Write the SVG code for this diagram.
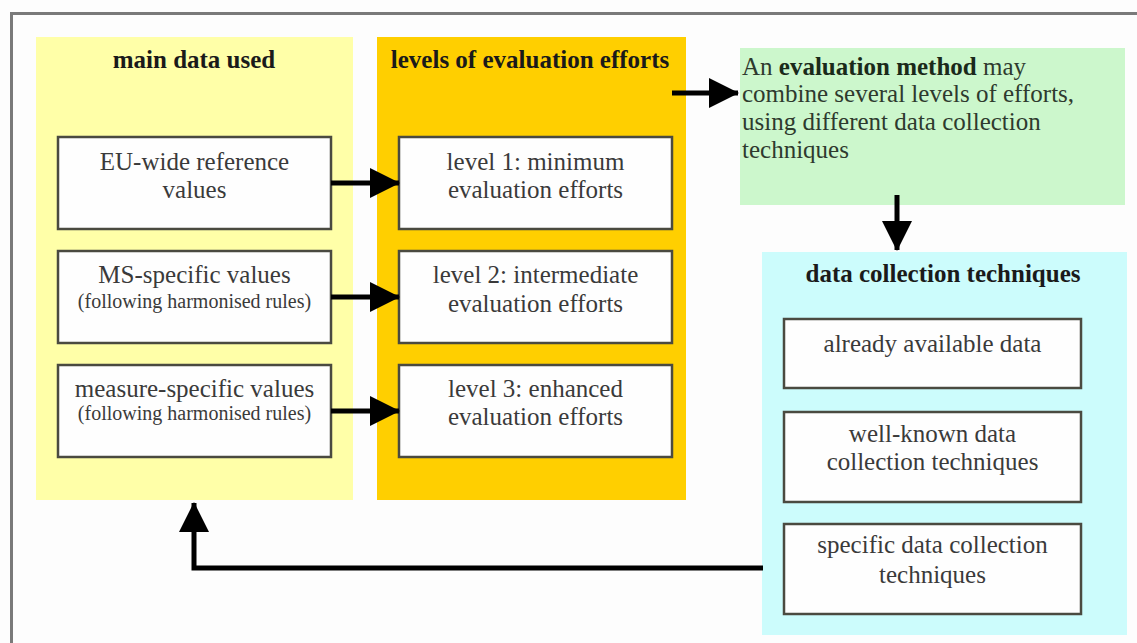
<svg xmlns="http://www.w3.org/2000/svg" width="1137" height="643" viewBox="0 0 1137 643">
<defs>
<style>
.t{font-family:"Liberation Serif","Times New Roman",serif;font-size:25px;fill:#3a3a3a}
.s{font-size:20px}
.h{font-family:"Liberation Serif","Times New Roman",serif;font-size:25px;font-weight:bold;fill:#1a1a1a}
.g{font-family:"Liberation Serif","Times New Roman",serif;font-size:25px;fill:#2e3a2e}
.box{fill:#fefefe;stroke:#4a4a40;stroke-width:2.5}
.c{stroke:#000;stroke-width:5;fill:none}
</style>
<marker id="ah" markerWidth="6" markerHeight="6" refX="5.8" refY="3" orient="auto" markerUnits="strokeWidth" viewBox="0 0 6 6">
<path d="M0,0 L6,3 L0,6 z" fill="#000"/>
</marker>
</defs>
<rect x="0" y="0" width="1137" height="643" fill="#fdfdfd"/>
<g id="frame">
<line x1="10" y1="13.5" x2="1137" y2="13.5" stroke="#7a7a7a" stroke-width="3"/>
<line x1="11.5" y1="12" x2="11.5" y2="643" stroke="#7a7a7a" stroke-width="3"/>
</g>
<g id="main-data-used">
<rect x="36" y="37" width="317" height="463" fill="#ffffa8"/>
<text class="h" x="194" y="68" text-anchor="middle">main data used</text>
</g>
<g id="eu-wide">
<rect class="box" x="58" y="137" width="273" height="92"/>
<text class="t" x="194.5" y="170" text-anchor="middle">EU-wide reference</text>
<text class="t" x="194.5" y="198" text-anchor="middle">values</text>
</g>
<g id="ms-specific">
<rect class="box" x="58" y="251" width="273" height="92"/>
<text class="t" x="194.5" y="283" text-anchor="middle">MS-specific values</text>
<text class="t s" x="194.5" y="308" text-anchor="middle">(following harmonised rules)</text>
</g>
<g id="measure-specific">
<rect class="box" x="58" y="365" width="273" height="92"/>
<text class="t" x="194.5" y="397" text-anchor="middle">measure-specific values</text>
<text class="t s" x="194.5" y="420" text-anchor="middle">(following harmonised rules)</text>
</g>
<g id="levels">
<rect x="377" y="37" width="309" height="463" fill="#ffcf00"/>
<text class="h" x="530" y="68" text-anchor="middle">levels of evaluation efforts</text>
</g>
<g id="level1">
<rect class="box" x="399" y="137" width="273" height="92"/>
<text class="t" x="535.5" y="170" text-anchor="middle">level 1: minimum</text>
<text class="t" x="535.5" y="198" text-anchor="middle">evaluation efforts</text>
</g>
<g id="level2">
<rect class="box" x="399" y="251" width="273" height="92"/>
<text class="t" x="535.5" y="283" text-anchor="middle">level 2: intermediate</text>
<text class="t" x="535.5" y="312" text-anchor="middle">evaluation efforts</text>
</g>
<g id="level3">
<rect class="box" x="399" y="365" width="273" height="92"/>
<text class="t" x="535.5" y="397" text-anchor="middle">level 3: enhanced</text>
<text class="t" x="535.5" y="425" text-anchor="middle">evaluation efforts</text>
</g>
<g id="evaluation-method">
<rect x="740" y="48" width="385" height="157" fill="#ccf7cc"/>
<text class="g" x="742" y="75">An <tspan font-weight="bold" fill="#1a2a1a">evaluation method</tspan> may</text>
<text class="g" x="742" y="102">combine several levels of efforts,</text>
<text class="g" x="742" y="130">using different data collection</text>
<text class="g" x="742" y="158">techniques</text>
</g>
<g id="data-collection">
<rect x="762" y="252" width="365" height="383" fill="#ccfcfc"/>
<text class="h" x="943" y="282" text-anchor="middle">data collection techniques</text>
</g>
<g id="already-available">
<rect class="box" x="784" y="319" width="297" height="69"/>
<text class="t" x="932.5" y="352" text-anchor="middle">already available data</text>
</g>
<g id="well-known">
<rect class="box" x="784" y="412" width="297" height="90"/>
<text class="t" x="932.5" y="442" text-anchor="middle">well-known data</text>
<text class="t" x="932.5" y="470" text-anchor="middle">collection techniques</text>
</g>
<g id="specific">
<rect class="box" x="784" y="524" width="297" height="90"/>
<text class="t" x="932.5" y="553" text-anchor="middle">specific data collection</text>
<text class="t" x="932.5" y="583" text-anchor="middle">techniques</text>
</g>
<g id="connectors">
<line class="c" x1="331" y1="183" x2="399" y2="183" marker-end="url(#ah)"/>
<line class="c" x1="331" y1="297" x2="399" y2="297" marker-end="url(#ah)"/>
<line class="c" x1="331" y1="411" x2="399" y2="411" marker-end="url(#ah)"/>
<line class="c" x1="672" y1="93" x2="738" y2="93" marker-end="url(#ah)"/>
<line class="c" x1="897" y1="195" x2="897" y2="250" marker-end="url(#ah)"/>
<polyline class="c" points="763,568 194,568 194,503" marker-end="url(#ah)"/>
</g>
</svg>
